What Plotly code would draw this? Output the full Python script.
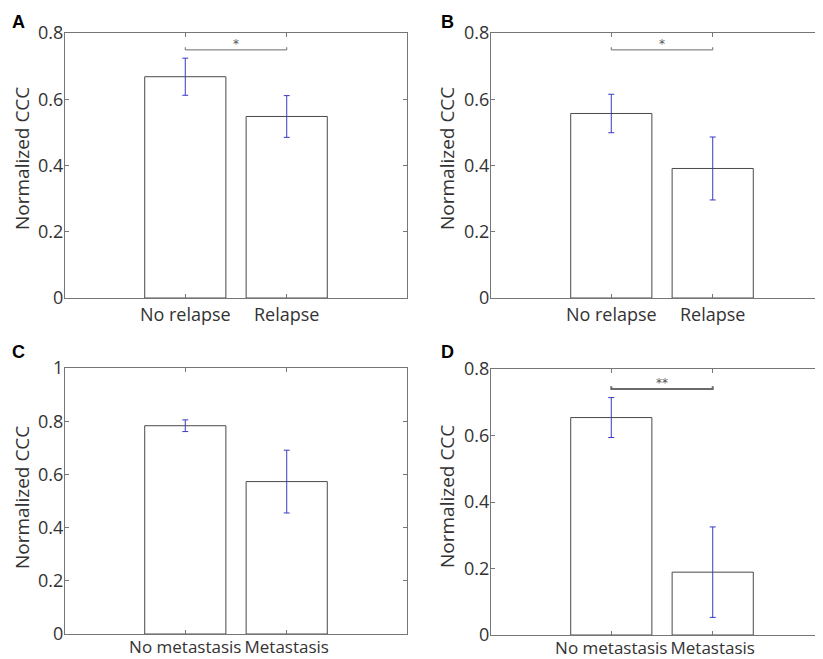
import plotly.graph_objects as go

# ---- data ----
x_pos = [1, 2]
labels_relapse = ["No relapse", "Relapse"]
labels_meta = ["No metastasis", "Metastasis"]

a_mean = [0.668, 0.548]
a_err = [0.056, 0.063]
b_mean = [0.557, 0.391]
b_err = [0.058, 0.095]
c_mean = [0.783, 0.573]
c_err = [0.022, 0.118]
d_mean = [0.654, 0.189]
d_err = [0.060, 0.136]

yt_08 = [0, 0.2, 0.4, 0.6, 0.8]
yt_08_text = ["0", "0.2", "0.4", "0.6", "0.8"]
yt_10 = [0, 0.2, 0.4, 0.6, 0.8, 1.0]
yt_10_text = ["0", "0.2", "0.4", "0.6", "0.8", "1"]

# significance brackets: (y level, label) ; None = no bracket
sig_a = (0.749, "*")
sig_b = (0.749, "*")
sig_c = None
sig_d = (0.740, "**")

OFF = 8            # page body margin of the html page
W, H = 825, 659    # figure size (right-most part is cropped by the window, like the reference)
AX = "#767676"
TXT = "#333333"
FONT = "Open Sans"

panels = [
    dict(letter="A", mean=a_mean, err=a_err, labels=labels_relapse, lsize=18, xstand=0, yt=yt_08, ytt=yt_08_text, yr=[0, 0.8], sig=sig_a,
         xd=[65, 407], yd=[33, 298], lx=18, ly=22, tx=22, ty=159, sigw=1),
    dict(letter="B", mean=b_mean, err=b_err, labels=labels_relapse, lsize=18, xstand=0, yt=yt_08, ytt=yt_08_text, yr=[0, 0.8], sig=sig_b,
         xd=[491, 833], yd=[33, 298], lx=447, ly=22, tx=447, ty=159, sigw=1),
    dict(letter="C", mean=c_mean, err=c_err, labels=labels_meta, lsize=17, xstand=-2, yt=yt_10, ytt=yt_10_text, yr=[0, 1.0], sig=sig_c,
         xd=[65, 407], yd=[368, 634], lx=18, ly=352, tx=22, ty=498, sigw=1),
    dict(letter="D", mean=d_mean, err=d_err, labels=labels_meta, lsize=17, xstand=-2, yt=yt_08, ytt=yt_08_text, yr=[0, 0.8], sig=sig_d,
         xd=[491, 833], yd=[369, 635], lx=447, ly=352, tx=447, ty=497, sigw=2),
]


def px_x(v):
    return (v - OFF) / W


def px_y(v):
    return 1 - (v - OFF) / H


fig = go.Figure()
layout = dict(width=W, height=H, margin=dict(l=0, r=0, t=0, b=0, autoexpand=False),
              paper_bgcolor="white", plot_bgcolor="white", showlegend=False,
              font=dict(family=FONT, size=18, color=TXT))
annotations = []

for i, p in enumerate(panels):
    n = "" if i == 0 else str(i + 1)
    xa, ya = "x" + n, "y" + n
    unit = 101.2
    xr = [1 - 120 / unit, 2 + 120 / unit]
    fig.add_trace(go.Bar(
        x=x_pos, y=p["mean"], width=0.8, xaxis=xa, yaxis=ya,
        marker=dict(color="white", line=dict(color="#4a4a4a", width=1)),
        error_y=dict(type="data", array=p["err"], visible=True, color="#3a3ac8", thickness=1, width=3),
        hoverinfo="skip"))
    if p["sig"] is not None:
        yl, lab = p["sig"]
        fig.add_trace(go.Scatter(
            x=[x_pos[0], x_pos[0], x_pos[1], x_pos[1]],
            y=[yl + 0.008, yl, yl, yl + 0.008], mode="lines", xaxis=xa, yaxis=ya,
            line=dict(color="#6a6a6a", width=p["sigw"]), hoverinfo="skip"))
        annotations.append(dict(x=sum(x_pos) / 2, y=yl, xref=xa, yref=ya, text=lab, showarrow=False,
                                yanchor="bottom", yshift=-3, font=dict(size=12, color="#555555", family="DejaVu Sans")))
    layout["xaxis" + n] = dict(
        domain=[px_x(p["xd"][0]), px_x(p["xd"][1])], anchor=ya, range=xr,
        tickvals=x_pos, ticktext=p["labels"], tickangle=0, automargin=False,
        showline=True, linecolor=AX, linewidth=1, mirror="ticks",
        ticks="inside", ticklen=4, tickcolor=AX, showgrid=False, zeroline=False,
        ticklabelstandoff=p["xstand"],
        tickfont=dict(family=FONT, size=p["lsize"], color=TXT))
    layout["yaxis" + n] = dict(
        domain=[px_y(p["yd"][1]), px_y(p["yd"][0])], anchor=xa, range=p["yr"],
        tickvals=p["yt"], ticktext=p["ytt"], automargin=False,
        showline=True, linecolor=AX, linewidth=1, mirror="ticks",
        ticks="inside", ticklen=4, tickcolor=AX, showgrid=False, zeroline=False,
        ticklabelstandoff=-3,
        tickfont=dict(family=FONT, size=18, color=TXT))
    annotations.append(dict(x=px_x(p["tx"]), y=px_y(p["ty"]), xref="paper", yref="paper",
                            text="Normalized CCC", textangle=-90, showarrow=False,
                            xanchor="center", yanchor="middle",
                            font=dict(family=FONT, size=19, color=TXT)))
    annotations.append(dict(x=px_x(p["lx"]), y=px_y(p["ly"]), xref="paper", yref="paper",
                            text="<b>" + p["letter"] + "</b>", showarrow=False,
                            xanchor="center", yanchor="middle",
                            font=dict(family="Liberation Sans", size=18, color="black")))

layout["annotations"] = annotations
fig.update_layout(**layout)
fig.write_html("out.html")
